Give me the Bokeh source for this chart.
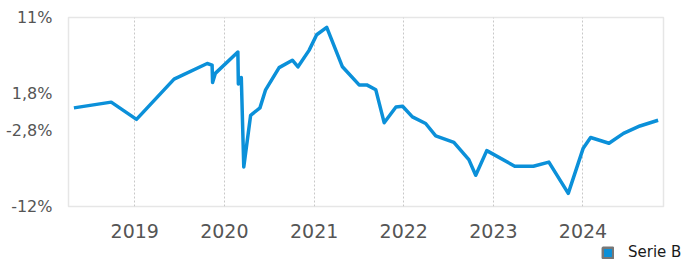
import pandas as pd
from bokeh.plotting import figure
from bokeh.layouts import column
from bokeh.models import (FixedTicker, CustomJSTickFormatter, Range1d, Legend, LegendItem)
from bokeh.embed import file_html
from bokeh.resources import INLINE

series_name = "Serie B"
dates = ["2018-04-28", "2018-09-27", "2019-01-08", "2019-06-10", "2019-10-23", "2019-11-12",
         "2019-11-14", "2019-11-25", "2020-02-25", "2020-02-27", "2020-03-10", "2020-03-20",
         "2020-04-17", "2020-05-25", "2020-06-17", "2020-08-11", "2020-10-04", "2020-10-27",
         "2020-12-11", "2021-01-11", "2021-02-21", "2021-04-26", "2021-07-03", "2021-08-03",
         "2021-09-09", "2021-10-13", "2021-11-30", "2021-12-27", "2022-02-05", "2022-03-31",
         "2022-05-11", "2022-07-24", "2022-09-23", "2022-10-21", "2022-12-05", "2023-03-29",
         "2023-06-13", "2023-08-15", "2023-11-02", "2024-01-02", "2024-02-01", "2024-04-16",
         "2024-06-14", "2024-08-20", "2024-11-02"]
values = [0.0, 0.7, -1.4, 3.5, 5.4, 5.2, 3.1, 4.2, 6.8, 2.9, 3.7, -7.2, -0.9, 0.0, 2.2,
          4.9, 5.8, 5.0, 7.0, 8.9, 9.8, 5.0, 2.8, 2.8, 2.2, -1.8, 0.1, 0.2, -1.1, -1.9,
          -3.4, -4.2, -6.3, -8.2, -5.2, -7.1, -7.1, -6.6, -10.4, -4.9, -3.6, -4.3, -3.1,
          -2.2, -1.5]
year_ticks = [2019, 2020, 2021, 2022, 2023, 2024]
y_ticks = [11, 1.8, -2.8, -12]
y_labels = ["11%", "1,8%", "-2,8%", "-12%"]
x_start, x_end = "2018-04-06", "2024-11-24"

FONT = "DejaVu Sans"
BLUE = "#0b90d9"
NAN = float("nan")

x = pd.to_datetime(dates)
p = figure(x_axis_type="datetime", output_backend="svg", toolbar_location=None,
           frame_width=595, frame_height=189,
           min_border_left=68, min_border_right=21, min_border_top=17, min_border_bottom=34,
           x_range=Range1d(pd.Timestamp(x_start), pd.Timestamp(x_end)),
           y_range=Range1d(-12, 11))
p.background_fill_color = "white"
p.border_fill_color = "white"
p.outline_line_color = "#e6e6e6"
p.outline_line_width = 1.5

line = p.line(x, values, line_color=BLUE, line_width=3.5, line_join="round")

tick_ms = [pd.Timestamp(f"{yr}-01-01").value // 10**6 for yr in year_ticks]
p.xaxis.ticker = FixedTicker(ticks=tick_ms)
p.xaxis.formatter = CustomJSTickFormatter(code="return String(new Date(tick).getUTCFullYear());")
p.yaxis.ticker = FixedTicker(ticks=y_ticks)
p.yaxis.formatter = CustomJSTickFormatter(args=dict(t=y_ticks, l=y_labels), code="""
const i = t.findIndex(v => Math.abs(v - tick) < 1e-9);
return i >= 0 ? l[i] : '';
""")

for ax in (p.xaxis[0], p.yaxis[0]):
    ax.axis_line_color = None
    ax.major_tick_line_color = None
    ax.minor_tick_line_color = None
    ax.major_label_text_font = FONT
    ax.major_label_text_color = "#555555"
p.xaxis.major_label_text_font_size = "19px"
p.yaxis.major_label_text_font_size = "16px"
p.xaxis.major_label_standoff = 11
p.yaxis.major_label_standoff = 10

p.ygrid.grid_line_color = None
p.xgrid.grid_line_color = "#c8c8c8"
p.xgrid.grid_line_dash = "2 2"
p.xgrid.grid_line_width = 1

# legend strip below the chart
lg = figure(output_backend="svg", toolbar_location=None, frame_width=684, frame_height=21,
            min_border=0, x_range=Range1d(0, 1), y_range=Range1d(0, 1))
lg.axis.visible = False
lg.grid.visible = False
lg.outline_line_color = None
lg.background_fill_color = "white"
lg.border_fill_color = "white"
# legend proxy (not drawn in the frame: NaN coordinates)
dummy = lg.quad(left=[NAN], right=[NAN], top=[NAN], bottom=[NAN], fill_color=BLUE,
                line_color="#777777", line_width=2.5)
legend = Legend(items=[LegendItem(label=series_name, renderers=[dummy])],
                location=(601, 0), glyph_width=13, glyph_height=13,
                label_standoff=14, padding=0, margin=0, spacing=0,
                border_line_color=None, background_fill_alpha=0,
                label_text_font=FONT, label_text_font_size="15px",
                label_text_color="#1a1a1a")
lg.add_layout(legend, "center")

layout = column(p, lg, spacing=0)
open("out.html", "w").write(file_html(layout, INLINE))
